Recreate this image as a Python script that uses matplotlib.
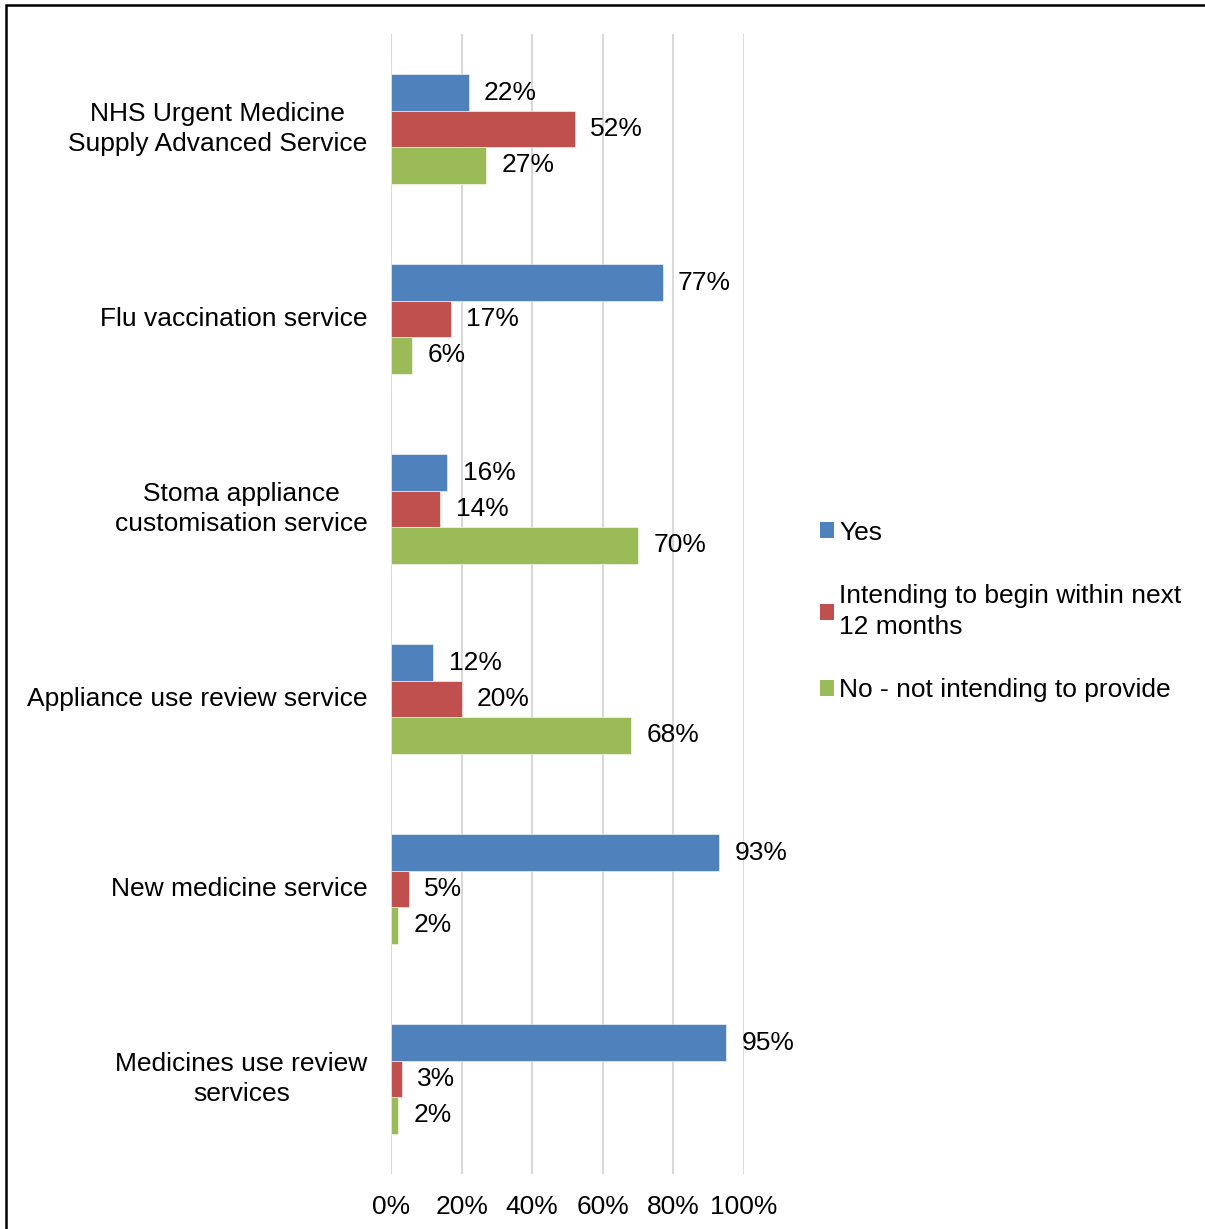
import numpy as np
import matplotlib.pyplot as plt
from matplotlib.patches import Rectangle, Patch

# dados
servicos = ["NHS Urgent Medicine\nSupply Advanced Service",
            "Flu vaccination service",
            "Stoma appliance\ncustomisation service",
            "Appliance use review service",
            "New medicine service",
            "Medicines use review\nservices"]
series = ["Yes", "Intending to begin within next\n12 months", "No - not intending to provide"]
sim = [22, 77, 16, 12, 93, 95]
pretende = [52, 17, 14, 20, 5, 3]
nao = [27, 6, 70, 68, 2, 2]
cores = ["#4F81BD", "#C0504D", "#9BBB59"]
ticks_x = [0, 20, 40, 60, 80, 100]

plt.rcParams['font.family'] = ['Liberation Sans', 'DejaVu Sans']
fs = 19

fig = plt.figure(figsize=(12.05, 12.29), dpi=100)
ax = fig.add_axes([391/1205, 55/1229, 353/1205, 1140/1229])

y = np.arange(len(servicos))
h = 0.192
for k, (vals, cor) in enumerate(zip([sim, pretende, nao], cores)):
    pos = y + (k - 1) * h
    bars = ax.barh(pos, vals, height=h, color=cor, edgecolor="white", linewidth=0.4,
                   label=series[k], zorder=2)
    for b, v in zip(bars, vals):
        ax.annotate(f"{v}%", (b.get_width(), b.get_y() + b.get_height() / 2),
                    xytext=(11, 0), textcoords="offset points",
                    ha="left", va="center", fontsize=fs)

ax.set_xlim(0, 100)
ax.set_ylim(len(servicos) - 0.5, -0.5)
ax.set_yticks(y)
ax.set_yticklabels(servicos, fontsize=fs, multialignment="center", linespacing=1.35, va="center")
ax.set_xticks(ticks_x)
ax.set_xticklabels([f"{t}%" for t in ticks_x], fontsize=fs)
ax.tick_params(axis="both", length=0)
ax.tick_params(axis="y", pad=17)
ax.tick_params(axis="x", pad=15)
for s in ax.spines.values():
    s.set_visible(False)
ax.grid(axis="x", color="#D9D9D9", linewidth=1.5, zorder=0)
ax.set_axisbelow(True)

handles = [Patch(facecolor=c) for c in cores]
leg = fig.legend(handles, series, loc="upper left", bbox_to_anchor=(809/1205, 1 - 510/1229),
                 frameon=False, fontsize=fs, handlelength=0.55, handleheight=0.55,
                 handletextpad=0.2, labelspacing=1.5, borderaxespad=0)
for t in leg.get_texts():
    t.set_linespacing(1.35)

# moldura
fig.patches.append(Rectangle((6/1205, -0.1), 1.2, 1.1 - 5/1229, transform=fig.transFigure,
                             fill=False, edgecolor="black", linewidth=1.8, clip_on=False))

fig.savefig("out.png", dpi=100)
